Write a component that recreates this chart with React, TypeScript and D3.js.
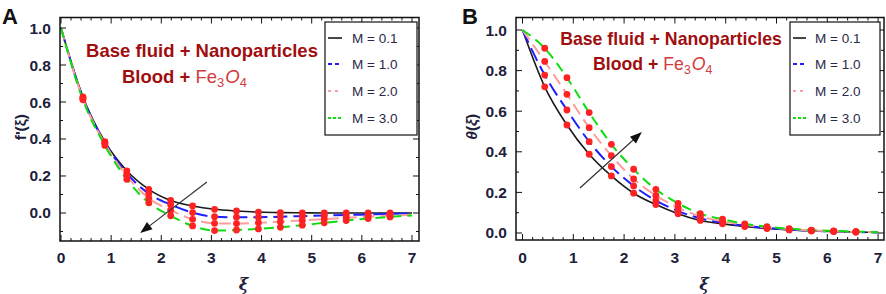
import React from "react";
import * as d3 from "d3";

// ---------- data ----------
const xi = [0, 0.4375, 0.875, 1.3125, 1.75, 2.1875, 2.625, 3.0625, 3.5, 3.9375, 4.375, 4.8125, 5.25, 5.6875, 6.125, 6.5625, 7];
const legendLabels = ["M = 0.1", "M = 1.0", "M = 2.0", "M = 3.0"];
const xTickLabels = ["0", "1", "2", "3", "4", "5", "6", "7"];
const yTickLabels = ["0.0", "0.2", "0.4", "0.6", "0.8", "1.0"];

// Panel A: f'(xi)
const fM01 = [1, 0.628, 0.385, 0.228, 0.128, 0.068, 0.038, 0.02, 0.011, 0.005, 0.002, 0.001, 0.0, 0.0, 0.0, 0.0, 0.0];
const fM10 = [1, 0.622, 0.38, 0.214, 0.105, 0.045, 0.002, -0.02, -0.023, -0.023, -0.02, -0.017, -0.014, -0.011, -0.008, -0.005, -0.003];
const fM20 = [1, 0.618, 0.375, 0.2, 0.08, 0.015, -0.034, -0.056, -0.057, -0.053, -0.047, -0.04, -0.033, -0.026, -0.02, -0.014, -0.01];
const fM30 = [1, 0.612, 0.365, 0.182, 0.055, -0.015, -0.07, -0.095, -0.092, -0.086, -0.077, -0.066, -0.053, -0.041, -0.03, -0.021, -0.013];

// Panel B: theta(xi)
const tM01 = [1, 0.72, 0.532, 0.388, 0.281, 0.196, 0.14, 0.095, 0.062, 0.045, 0.032, 0.022, 0.015, 0.01, 0.007, 0.005, 0.003];
const tM10 = [1, 0.778, 0.606, 0.45, 0.327, 0.232, 0.16, 0.108, 0.072, 0.05, 0.036, 0.025, 0.017, 0.011, 0.008, 0.005, 0.003];
const tM20 = [1, 0.845, 0.683, 0.519, 0.381, 0.266, 0.185, 0.125, 0.082, 0.058, 0.04, 0.028, 0.019, 0.013, 0.009, 0.006, 0.004];
const tM30 = [1, 0.91, 0.765, 0.593, 0.437, 0.314, 0.215, 0.146, 0.095, 0.068, 0.045, 0.031, 0.021, 0.014, 0.01, 0.007, 0.004];

// arrows (data coords): [x1, y1, x2, y2]
const arrowA = [2.91, 0.168, 1.58, -0.108];
const arrowB = [1.13, 0.222, 2.35, 0.497];

// ---------- styles ----------
const colors = ["#1a1a1a", "#1e1eff", "#ff9c9c", "#10dd10"];
const dashes = [null, "14,6", "12,6", "10,6"];
const widths = [1.6, 2, 2, 2];
const legendDashes = [null, "4,3", "3,4", "3,2"];
const tickColor = "#20203a";
const font = "'Liberation Sans', Arial, sans-serif";
const red1 = "#a00e0e";
const red2 = "#d23c3c";

type PanelProps = {
  id: string;
  series: number[][];
  xRange: [number, number];
  xDomain: [number, number];
  yRange: [number, number];
  yDomain: [number, number];
  arrow: number[];
  legendBox: [number, number, number, number];
  legendLine: [number, number];
  legendText: number;
  note: { cx: number; y1: number; x2: number; y2: number; size: number };
  yLabel: React.ReactNode;
  yLabelX: number;
  letterX: number;
};

function Panel(p: PanelProps) {
  const x = d3.scaleLinear().domain(p.xDomain).range(p.xRange);
  const y = d3.scaleLinear().domain(p.yDomain).range(p.yRange);
  const line = d3
    .line<number>()
    .x((_, i) => x(xi[i]))
    .y((d) => y(d))
    .curve(d3.curveMonotoneX);
  const [x0, x1] = p.xRange;
  const [yb, yt] = p.yRange;
  const xMajor = d3.range(0, 8, 1);
  const xMinor = d3.range(0, 7.15, 0.2).filter((v) => Math.abs(v - Math.round(v)) > 1e-6);
  const yMajor = d3.range(0, 1.01, 0.2);
  const yMinor = d3.range(-0.1, 1.06, 0.1).filter((v) => Math.abs(v * 5 - Math.round(v * 5)) > 1e-6 && y(v) <= yb && y(v) >= yt);
  const markerIdx = d3.range(1, 16);
  const clipId = "clip" + p.id;
  const ax = p.arrow;
  const ax1 = x(ax[0]), ay1 = y(ax[1]), ax2 = x(ax[2]), ay2 = y(ax[3]);
  const ang = Math.atan2(ay2 - ay1, ax2 - ax1);
  const hl = 12, hw = 4.5;
  const head = [
    [ax2, ay2],
    [ax2 - hl * Math.cos(ang) + hw * Math.sin(ang), ay2 - hl * Math.sin(ang) - hw * Math.cos(ang)],
    [ax2 - hl * Math.cos(ang) - hw * Math.sin(ang), ay2 - hl * Math.sin(ang) + hw * Math.cos(ang)],
  ];
  const [lbx, lby, lbw, lbh] = p.legendBox;
  const legendRows = [38, 64, 91, 118];
  return (
    <g>
      <defs>
        <clipPath id={clipId}>
          <rect x={x0} y={yt} width={x1 - x0} height={yb - yt} />
        </clipPath>
      </defs>
      <text x={p.letterX} y={24} fontFamily={font} fontWeight="bold" fontSize={22} fill="#111">
        {p.id}
      </text>
      {/* curves */}
      <g clipPath={`url(#${clipId})`}>
        {p.series.map((s, i) => (
          <path
            key={i}
            d={line(s) || ""}
            fill="none"
            stroke={colors[i]}
            strokeWidth={widths[i]}
            strokeDasharray={dashes[i] || undefined}
          />
        ))}
        {p.series.map((s, i) =>
          markerIdx.map((k) => (
            <circle key={`${i}-${k}`} cx={x(xi[k])} cy={y(s[k])} r={3.4} fill="#ff2222" />
          ))
        )}
        <line x1={ax1} y1={ay1} x2={ax2 - 8 * Math.cos(ang)} y2={ay2 - 8 * Math.sin(ang)} stroke="#333" strokeWidth={1.2} />
        <polygon points={head.map((d) => d.join(",")).join(" ")} fill="#111" />
      </g>
      {/* frame */}
      <rect x={x0} y={yt} width={x1 - x0} height={yb - yt} fill="none" stroke="#111" strokeWidth={1.5} />
      {xMajor.map((v) => (
        <g key={"xm" + v}>
          <line x1={x(v)} x2={x(v)} y1={yb} y2={yb - 6} stroke="#111" />
          <line x1={x(v)} x2={x(v)} y1={yt} y2={yt + 6} stroke="#111" />
        </g>
      ))}
      {xMinor.map((v, i) => (
        <g key={"xn" + i}>
          <line x1={x(v)} x2={x(v)} y1={yb} y2={yb - 3} stroke="#111" />
          <line x1={x(v)} x2={x(v)} y1={yt} y2={yt + 3} stroke="#111" />
        </g>
      ))}
      {yMajor.map((v, i) => (
        <g key={"ym" + i}>
          <line x1={x0} x2={x0 + 6} y1={y(v)} y2={y(v)} stroke="#111" />
          <line x1={x1} x2={x1 - 6} y1={y(v)} y2={y(v)} stroke="#111" />
        </g>
      ))}
      {yMinor.map((v, i) => (
        <g key={"yn" + i}>
          <line x1={x0} x2={x0 + 3} y1={y(v)} y2={y(v)} stroke="#111" />
          <line x1={x1} x2={x1 - 3} y1={y(v)} y2={y(v)} stroke="#111" />
        </g>
      ))}
      {xTickLabels.map((t, i) => (
        <text key={"xl" + i} x={x(xMajor[i])} y={263} textAnchor="middle" fontFamily={font} fontWeight="bold" fontSize={15.5} fill={tickColor}>
          {t}
        </text>
      ))}
      {yTickLabels.map((t, i) => (
        <text key={"yl" + i} x={x0 - 9} y={y(yMajor[i]) + 5.5} textAnchor="end" fontFamily={font} fontWeight="bold" fontSize={15.5} fill={tickColor}>
          {t}
        </text>
      ))}
      {/* axis labels */}
      <text x={(x0 + x1) / 2 + 4} y={290} textAnchor="middle" fontFamily={"'DejaVu Serif', serif"} fontStyle="italic" fontWeight="bold" fontSize={16} fill={tickColor}>
        ξ
      </text>
      <g transform={`translate(${p.yLabelX},${(yt + yb) / 2 - 2}) rotate(-90)`}>
        <text textAnchor="middle" fontFamily={font} fontWeight="bold" fontSize={15.5} fill={tickColor}>
          {p.yLabel}
        </text>
      </g>
      {/* annotation */}
      <text x={p.note.cx} y={p.note.y1} textAnchor="middle" fontFamily={font} fontWeight="bold" fontSize={p.note.size} fill={red1}>
        Base fluid + Nanoparticles
      </text>
      <text x={p.note.x2} y={p.note.y2} fontFamily={font} fontSize={p.note.size} fill={red1}>
        <tspan fontWeight="bold">Blood + </tspan>
        <tspan fill={red2}>Fe</tspan>
        <tspan fill={red2} fontSize={p.note.size * 0.7} dy={4}>3</tspan>
        <tspan fill={red2} fontStyle="italic" dy={-4} dx={1}>O</tspan>
        <tspan fill={red2} fontSize={p.note.size * 0.7} dy={4}>4</tspan>
      </text>
      {/* legend */}
      <rect x={lbx} y={lby} width={lbw} height={lbh} fill="#fff" stroke="#111" strokeWidth={1.2} />
      {legendLabels.map((l, i) => (
        <g key={"lg" + i}>
          <line
            x1={p.legendLine[0]}
            x2={p.legendLine[1]}
            y1={legendRows[i]}
            y2={legendRows[i]}
            stroke={colors[i]}
            strokeWidth={i === 0 ? 1.6 : 1.8}
            strokeDasharray={legendDashes[i] || undefined}
          />
          <text x={p.legendText} y={legendRows[i] + 5} fontFamily={font} fontSize={13.5} fill="#2a2a48">
            {l}
          </text>
        </g>
      ))}
    </g>
  );
}

export default function App() {
  return (
    <svg width={886} height={294} style={{ position: "absolute", left: 0, top: 0, background: "#fff" }}>
      <rect width={886} height={294} fill="#fff" />
      <Panel
        id="A"
        series={[fM01, fM10, fM20, fM30]}
        xRange={[60, 419]}
        xDomain={[-0.02, 7.14]}
        yRange={[241, 17.5]}
        yDomain={[-0.1514, 1.0568]}
        arrow={arrowA}
        legendBox={[325, 22, 92, 113]}
        legendLine={[328, 342]}
        legendText={352}
        note={{ cx: 202, y1: 56.5, x2: 122, y2: 82.5, size: 18.5 }}
        yLabel={<>f'(ξ)</>}
        yLabelX={26}
        letterX={2}
      />
      <Panel
        id="B"
        series={[tM01, tM10, tM20, tM30]}
        xRange={[516, 884]}
        xDomain={[-0.128, 7.116]}
        yRange={[240, 17.5]}
        yDomain={[-0.0345, 1.0616]}
        arrow={arrowB}
        legendBox={[790, 22, 90, 113]}
        legendLine={[793, 806]}
        legendText={815}
        note={{ cx: 671, y1: 44.5, x2: 593, y2: 69.5, size: 17.7 }}
        yLabel={
          <>
            <tspan fontStyle="italic">θ</tspan>(<tspan fontStyle="italic">ξ</tspan>)
          </>
        }
        yLabelX={477}
        letterX={462}
      />
    </svg>
  );
}
